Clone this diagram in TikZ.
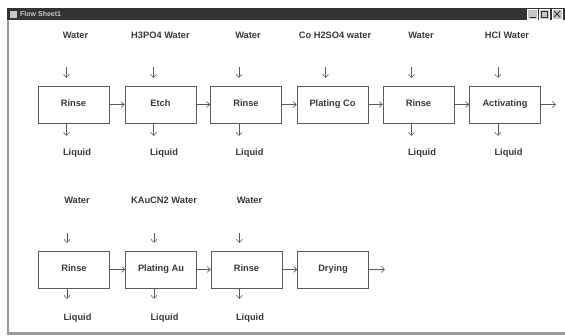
\documentclass[tikz,border=0pt]{standalone}
\usepackage{fontspec}
\setmainfont{Liberation Sans}
\usetikzlibrary{arrows.meta}
\definecolor{ink}{HTML}{3A3A3A}
\definecolor{ln}{HTML}{5A5A5A}
\definecolor{titlebg}{HTML}{333333}
\definecolor{titletx}{HTML}{C8C8C8}
\definecolor{frame}{HTML}{9A9A9A}
\definecolor{btn}{HTML}{C4C4C4}
\begin{document}
\begin{tikzpicture}[x=1pt,y=-1pt,
  every node/.style={font=\bfseries\fontsize{9.3}{11}\selectfont, text=ink, inner sep=0pt},
  stepbox/.style={draw=ln, line width=0.7pt, minimum width=71pt, minimum height=37pt, text height=6.8pt, text depth=2pt},
  flow/.style={draw=ln, line width=0.6pt, -{Straight Barb[length=3.2pt,width=6pt,line width=0.6pt]}},
  winbtn/.style={fill=btn, draw=white, line width=0.4pt, minimum width=10pt, minimum height=10pt}]
\useasboundingbox (0,0) rectangle (565,335);
\fill[white] (0,0) rectangle (565,335);
% window frame
\fill[titlebg] (7,8) rectangle (565,20);
\fill[frame] (7,20) rectangle (9,335);
\fill[frame] (7,332) rectangle (565,335);
\node[fill=titletx, minimum width=7pt, minimum height=7pt] (icon) at (13,14) {};
\node[anchor=west, text=titletx, font=\bfseries\fontsize{7}{8}\selectfont] (title) at (20,14) {Flow Sheet1};
\node[winbtn] (bmin) at (532.5,14) {};
\node[winbtn] (bmax) at (544,14) {};
\node[winbtn] (bcls) at (557,14) {};
\draw[titlebg, line width=1pt] ([xshift=-3pt,yshift=-3pt]bmin.center) -- ([xshift=3pt,yshift=-3pt]bmin.center);
\draw[titlebg, line width=0.8pt] ([xshift=-3pt,yshift=-3pt]bmax.center) rectangle ([xshift=3pt,yshift=3pt]bmax.center);
\draw[titlebg, line width=0.8pt] ([xshift=-3pt,yshift=-3pt]bcls.center) -- ([xshift=3pt,yshift=3pt]bcls.center)
  ([xshift=-3pt,yshift=3pt]bcls.center) -- ([xshift=3pt,yshift=-3pt]bcls.center);

% row 1
\foreach \n/\x/\t/\tx/\top in {a1/73.5/Rinse/75.5/Water, a2/160.5/Etch/160.5/H3PO4 Water, a3/246/Rinse/248/Water, a4/332.5/Plating Co/335/Co H2SO4 water, a5/418.5/Rinse/421/Water, a6/505/Activating/507/HCl Water}{
  \node[stepbox] (\n) at (\x,104.5) {\t};
  \node (\n top) at (\tx,35) {\top};
  \coordinate (\n in) at (\x-7,67);
  \draw[flow] (\n in) -- (\n in |- 0,78);
}
\foreach \n/\x in {a1/73.5, a2/160.5, a3/246, a5/418.5, a6/505}{
  \coordinate (\n out) at (\x-7,136);
  \draw[flow] (\n in |- \n.south) -- (\n out);
  \node (\n liq) at (\x+3.5,153) {Liquid};
}
\draw[flow] (a1) -- (a2);
\draw[flow] (a2) -- (a3);
\draw[flow] (a3) -- (a4);
\draw[flow] (a4) -- (a5);
\draw[flow] (a5) -- (a6);
\coordinate (a6end) at (556,104.5);
\draw[flow] (a6) -- (a6end);

% row 2
\foreach \n/\x/\t in {b1/74/Rinse, b2/161/Plating Au, b3/246.5/Rinse, b4/333/Drying}{
  \node[stepbox] (\n) at (\x,269.5) {\t};
}
\foreach \n/\x/\top in {b1/74/Water, b2/161/KAuCN2 Water, b3/246.5/Water}{
  \node (\n top) at (\x+3,200) {\top};
  \coordinate (\n in) at (\x-7,233);
  \draw[flow] (\n in) -- (\n in |- 0,243);
  \coordinate (\n out) at (\x-7,299);
  \draw[flow] (\n in |- \n.south) -- (\n out);
  \node (\n liq) at (\x+3.5,318) {Liquid};
}
\draw[flow] (b1) -- (b2);
\draw[flow] (b2) -- (b3);
\draw[flow] (b3) -- (b4);
\coordinate (b4end) at (385,269.5);
\draw[flow] (b4) -- (b4end);
\end{tikzpicture}
\end{document}
